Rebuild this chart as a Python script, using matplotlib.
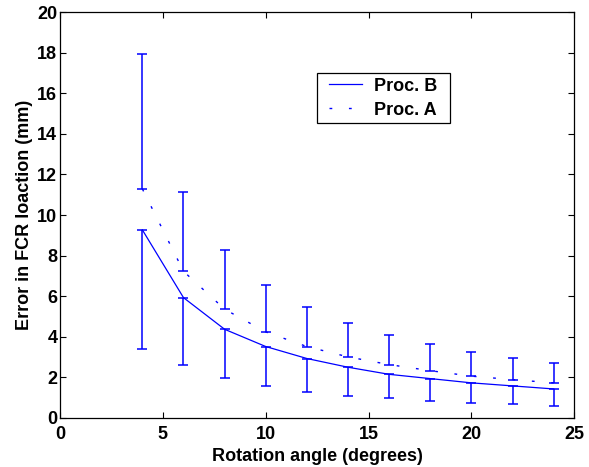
import matplotlib
matplotlib.use("Agg")
import matplotlib.pyplot as plt
from matplotlib.patches import Rectangle
import numpy as np

angle = [4, 6, 8, 10, 12, 14, 16, 18, 20, 22, 24]

# Proc. B (solid) with lower error bars
proc_b = [9.27, 5.93, 4.37, 3.52, 2.93, 2.50, 2.15, 1.94, 1.73, 1.58, 1.43]
proc_b_low = [3.40, 2.61, 1.99, 1.58, 1.30, 1.08, 0.97, 0.85, 0.74, 0.67, 0.61]

# Proc. A (dashed) with upper error bars
proc_a = [11.29, 7.23, 5.36, 4.24, 3.52, 3.01, 2.63, 2.33, 2.06, 1.89, 1.73]
proc_a_high = [17.93, 11.16, 8.27, 6.54, 5.46, 4.67, 4.08, 3.63, 3.27, 2.97, 2.73]

plt.rcParams['font.family'] = ['Liberation Sans', 'DejaVu Sans']
plt.rcParams['font.weight'] = 'bold'

fig = plt.figure(figsize=(5.89, 4.67), dpi=100)
ax = fig.add_axes([0.102, 0.105, 0.873, 0.869])

b = np.array(proc_b)
a = np.array(proc_a)
err_b = [b - np.array(proc_b_low), np.zeros_like(b)]
err_a = [np.zeros_like(a), np.array(proc_a_high) - a]

ax.errorbar(angle, proc_b, yerr=err_b, color='blue', linestyle='-', linewidth=0.9,
            elinewidth=1.1, capsize=3.3, capthick=1.1, label='Proc. B')
ax.errorbar(angle, proc_a, yerr=err_a, color='blue', linestyle=(0, (2, 12)), linewidth=1.0,
            elinewidth=1.1, capsize=3.3, capthick=1.1, label='Proc. A')

ax.set_xlim(0, 25)
ax.set_ylim(0, 20)
ax.set_xticks(np.arange(0, 26, 5))
ax.set_yticks(np.arange(0, 21, 2))
ax.tick_params(direction='in', top=True, right=True, length=4, width=0.8, labelsize=13)
ax.tick_params(axis='x', pad=5.5)
ax.tick_params(axis='y', pad=2)
for s in ax.spines.values():
    s.set_linewidth(0.9)

ax.set_xlabel("Rotation angle (degrees)", fontsize=13, fontweight='bold', labelpad=4)
ax.set_ylabel("Error in FCR loaction (mm)", fontsize=13, fontweight='bold', labelpad=3)

# legend box drawn separately (matlab style padding)
ax.add_patch(Rectangle((0.5, 0.727), 0.259, 0.123, transform=ax.transAxes,
                       facecolor='white', edgecolor='black', linewidth=0.9, zorder=4.5))
handles, labels = ax.get_legend_handles_labels()
handles = [h[0] for h in handles]
leg = ax.legend(handles, labels, loc='upper left', bbox_to_anchor=(0.5146, 0.850), fontsize=13,
                frameon=False, handlelength=1.83, borderpad=0.25, labelspacing=0.39,
                handletextpad=0.67, borderaxespad=0)

fig.savefig("out.png", dpi=100)
